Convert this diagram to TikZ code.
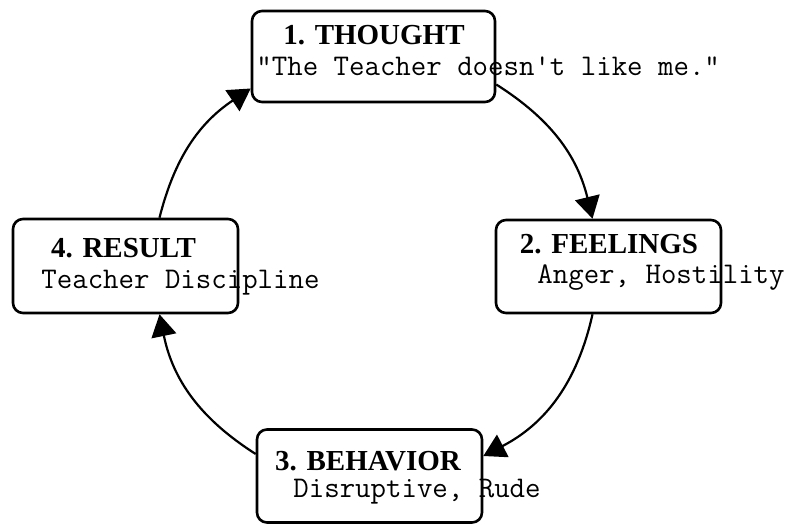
\documentclass[tikz,border=0pt]{standalone}
\usepackage{fontspec}
\setmainfont{Liberation Serif}
\usetikzlibrary{arrows.meta}

\begin{document}
\begin{tikzpicture}[
	x=0.5pt, y=-0.5pt,
	box/.style={draw, line width=1.3pt, rounded corners=5pt, minimum width=112.5pt, minimum height=46.5pt, inner sep=0pt},
	title/.style={font=\fontsize{14.5}{16}\selectfont\bfseries, inner sep=0pt, anchor=base},
	body/.style={font=\fontsize{15}{17}\selectfont\ttfamily, inner sep=0pt, anchor=base west},
	arr/.style={-{Triangle[length=11pt, width=12.5pt]}, line width=1.1pt}
]
\useasboundingbox (0,0) rectangle (798,524);

% Kaesten
\node[box, minimum width=121.5pt, minimum height=45.5pt] (thought) at (373.5,56.5) {};
\node[box] (feelings) at (608.5,266.5) {};
\node[box] (behavior) at (369.5,476) {};
\node[box, minimum height=47pt] (result) at (125.5,266) {};

% Ueberschriften
\node[title] (thoughtT) at (374,45) {1. THOUGHT};
\node[title] (feelingsT) at (609,253) {2. FEELINGS};
\node[title] (behaviorT) at (368,470) {3. BEHAVIOR};
\node[title] (resultT) at (123.5,257) {4. RESULT};

% Texte
\node[body] (thoughtB) at (256,76) {"The Teacher doesn't like me."};
\node[body] (feelingsB) at (537,283) {Anger, Hostility};
\node[body] (behaviorB) at (293,497) {Disruptive, Rude};
\node[body] (resultB) at (41,288) {Teacher Discipline};

% Pfeile
\draw[arr] ([yshift=-14pt]thought.east) to[bend left=22] ([xshift=-8pt]feelings.north);
\draw[arr] ([xshift=-8pt]feelings.south) to[bend left=25] ([yshift=10pt]behavior.east);
\draw[arr] ([yshift=11pt]behavior.west) to[bend left=23] ([xshift=17pt]result.south);
\draw[arr] ([xshift=17pt]result.north) to[bend left=21] ([yshift=-16pt]thought.west);
\end{tikzpicture}
\end{document}
